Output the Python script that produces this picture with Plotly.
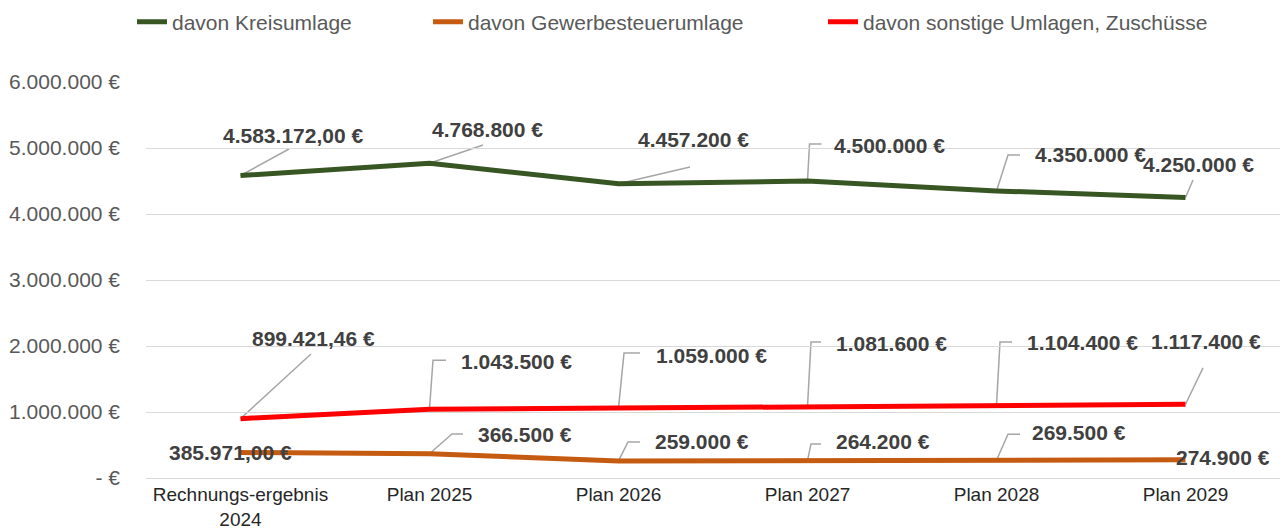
import plotly.graph_objects as go

# ---------------- data ----------------
categories = ["Rechnungs-ergebnis<br>2024", "Plan 2025", "Plan 2026", "Plan 2027", "Plan 2028", "Plan 2029"]
kreisumlage = [4583172.00, 4768800, 4457200, 4500000, 4350000, 4250000]
gewerbesteuerumlage = [385971.00, 366500, 259000, 264200, 269500, 274900]
sonstige_umlagen = [899421.46, 1043500, 1059000, 1081600, 1104400, 1117400]
label_decimals = [2, 0, 0, 0, 0, 0]
y_tickvals = [0, 1000000, 2000000, 3000000, 4000000, 5000000, 6000000]
y_ticktext = ["- €", "1.000.000 €", "2.000.000 €", "3.000.000 €", "4.000.000 €", "5.000.000 €", "6.000.000 €"]

series_names = ["davon Kreisumlage", "davon Gewerbesteuerumlage", "davon sonstige Umlagen, Zuschüsse"]

# ---------------- styles ----------------
FONT = "Liberation Sans, Arial, sans-serif"
colors = ["#375623", "#C55A11", "#FF0000"]
LEADER = "#A6A6A6"
LABEL_COLOR = "#404040"

# label offsets (pixels, dx right, dy up) per series / point
label_off = {
    0: [(52, 40.5), (57.5, 33.3), (74.5, 44.8), (82, 36), (94, 36.9), (12.5, 33.5)],
    1: [(-10.5, 0.5), (95.5, 19.8), (83.5, 19.9), (75.5, 18.6), (82, 28.2), (37, 1.9)],
    2: [(73, 80.6), (87, 48.1), (93, 53.1), (84, 63.6), (86, 63.1), (20, 62.3)],
}
# leader line paths (pixels relative to point, y up)
leaders = {
    0: [[(48.5, 26.5)], [(53.5, 18.3)], [(71.5, 16.8)], [(2, 37), (14, 37)], [(11.5, 36), (23.5, 36)], [(7.5, 17.5)]],
    1: [None, [(22.5, 19.8), (33.5, 19.8)], [(9.5, 19), (21.5, 19)], [(3.5, 16.6), (13.5, 16.6)], [(11.5, 26), (23.5, 26)], None],
    2: [[(70.5, 64.6)], [(3.5, 49), (16.5, 49)], [(5.5, 55), (21.5, 55)], [(3.5, 64.6), (13.5, 64.6)], [(3.5, 63), (15.5, 63)], [(17.5, 36.3)]],
}


def de_eur(v, dec):
    s = f"{v:,.{dec}f}"
    s = s.replace(",", "X").replace(".", ",").replace("X", ".")
    return s + " €"


xs = list(range(len(categories)))
all_series = [kreisumlage, gewerbesteuerumlage, sonstige_umlagen]
legend_ids = ["legend", "legend2", "legend3"]

fig = go.Figure()
for k, (vals, name) in enumerate(zip(all_series, series_names)):
    fig.add_trace(go.Scatter(
        x=xs, y=vals, mode="lines", name=name,
        line=dict(color=colors[k], width=5),
        legend=legend_ids[k], hoverinfo="skip",
    ))

annotations = []
shapes = []
for k, vals in enumerate(all_series):
    for i, v in enumerate(vals):
        dx, dy = label_off[k][i]
        annotations.append(dict(
            x=xs[i], y=v, xref="x", yref="y", text=de_eur(v, label_decimals[i]),
            showarrow=False, xanchor="center", yanchor="middle",
            xshift=dx, yshift=dy,
            font=dict(family=FONT, size=21, color=LABEL_COLOR, weight="bold"),
        ))
        pts = leaders[k][i]
        if pts:
            path = "M0,0 " + " ".join(f"L{px},{py}" for px, py in pts)
            shapes.append(dict(
                type="path", xref="x", yref="y", xsizemode="pixel", ysizemode="pixel",
                xanchor=xs[i], yanchor=v, path=path,
                line=dict(color=LEADER, width=1.5), layer="below",
            ))

PLOT_W = 1286 - 146 - 6
fig.update_layout(
    width=1286, height=528, autosize=False,
    margin=dict(l=146, r=6, t=82, b=50, autoexpand=False),
    paper_bgcolor="white", plot_bgcolor="white",
    annotations=annotations, shapes=shapes,
    xaxis=dict(
        range=[-0.5, 5.5], tickvals=xs, ticktext=categories,
        showgrid=False, zeroline=False, showline=False, ticks="",
        tickfont=dict(family=FONT, size=19, color="#262626"),
        ticklabelstandoff=3, automargin=False,
    ),
    yaxis=dict(
        range=[0, 6000000], tickvals=y_tickvals, ticktext=y_ticktext,
        showgrid=True, gridcolor="#D9D9D9", gridwidth=1,
        zeroline=True, zerolinecolor="#D9D9D9", zerolinewidth=1,
        showline=False, ticks="",
        tickfont=dict(family=FONT, size=21, color="#595959"),
        ticklabelstandoff=25, automargin=False,
    ),
    showlegend=True,
)

leg_common = dict(orientation="h", yanchor="middle", y=1 + 60 / 396, xanchor="left",
                  bgcolor="rgba(0,0,0,0)", borderwidth=0,
                  font=dict(family=FONT, size=21, color="#595959"))
fig.update_layout(
    legend=dict(x=(132 - 146) / PLOT_W, **leg_common),
    legend2=dict(x=(428 - 146) / PLOT_W, **leg_common),
    legend3=dict(x=(823 - 146) / PLOT_W, **leg_common),
)

fig.write_html(
    "out.html",
    config={"displayModeBar": False},
    post_script="document.body.style.margin='0';document.body.style.overflow='hidden';",
)
